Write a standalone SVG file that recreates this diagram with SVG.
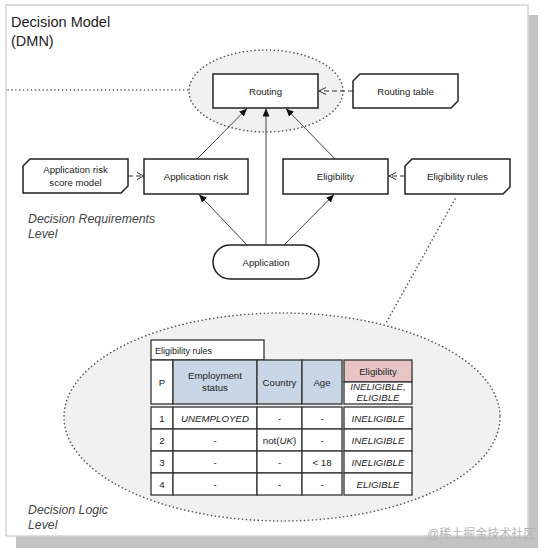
<svg xmlns="http://www.w3.org/2000/svg" width="544" height="555" viewBox="0 0 544 555">
<defs>
<marker id="solid" markerUnits="userSpaceOnUse" markerWidth="9" markerHeight="7" refX="8" refY="3.5" orient="auto">
<path d="M0,0 L8,3.5 L0,7 Z" fill="#111"/>
</marker>
<marker id="open" markerUnits="userSpaceOnUse" markerWidth="9" markerHeight="10" refX="7.5" refY="4" orient="auto">
<path d="M0.5,0.5 L7.5,4 L0.5,7.5" fill="none" stroke="#333" stroke-width="1"/>
</marker>
</defs>
<style>
text{font-family:"Liberation Sans",Arial,sans-serif;fill:#222}
.node{fill:#fff;stroke:#222;stroke-width:1.5}
.nt{font-size:9.6px;text-anchor:middle}
.lvl{font-size:12.3px;font-style:italic;fill:#444}
.halo{fill:#f1f1f1;stroke:#555;stroke-width:1.6;stroke-dasharray:0.1 3.8;stroke-linecap:round}
.dot{fill:none;stroke:#555;stroke-width:1.6;stroke-dasharray:0.1 3.8;stroke-linecap:round}
.req{fill:none;stroke:#444;stroke-width:1;marker-end:url(#solid)}
.kn{fill:none;stroke:#333;stroke-width:1.2;stroke-dasharray:5 3;marker-end:url(#open)}
.cell{fill:#fff;stroke:#333;stroke-width:1.3}
.in{fill:#c8d6e5;stroke:#333;stroke-width:1.3}
.out{fill:#e7c5c5;stroke:#333;stroke-width:1.3}
.tt{font-size:9.7px;text-anchor:middle}
.it{font-style:italic}
</style>
<rect x="16" y="15" width="522" height="533" fill="#c3c3c3"/>
<rect x="6" y="5" width="522" height="531" fill="#fff" stroke="#d4d4d4" stroke-width="1.5"/>
<text x="11" y="27" style="font-size:14.5px" fill="#333">Decision Model</text>
<text x="11" y="46" style="font-size:14.5px" fill="#333">(DMN)</text>
<g id="halos">
<ellipse class="halo" cx="266" cy="91" rx="77" ry="41"/>
<ellipse class="halo" cx="282" cy="417" rx="218" ry="104"/>
<path class="dot" d="M8,90 H189"/>
<path class="dot" d="M455,199 L386,323"/>
</g>
<text class="lvl" x="28" y="223">Decision Requirements</text>
<text class="lvl" x="28" y="238">Level</text>
<text class="lvl" x="28" y="514">Decision Logic</text>
<text class="lvl" x="28" y="529">Level</text>
<g id="connectors">
<path class="req" d="M197,159 L247,108.5"/>
<path class="req" d="M335,159 L286,108.5"/>
<path class="req" d="M266,245 L266,108.5"/>
<path class="req" d="M247,245 L199,194.5"/>
<path class="req" d="M284,245 L334,194.5"/>
<path class="kn" d="M353,91 L319,91"/>
<path class="kn" d="M128,176 L144,176"/>
<path class="kn" d="M405,176 L389,176"/>
</g>
<g id="routing">
<rect class="node" x="213" y="74" width="105" height="34"/>
<text class="nt" x="265.5" y="94.5">Routing</text>
</g>
<g id="routing-table">
<path class="node" d="M360,74 H458 V101 L451,108 H353 V81 Z"/>
<text class="nt" x="405.5" y="94.5">Routing table</text>
</g>
<g id="application-risk-score-model">
<path class="node" d="M30,159 H128 V186 L121,193 H23 V166 Z"/>
<text class="nt" x="75.5" y="173">Application risk</text>
<text class="nt" x="75.5" y="185.5">score model</text>
</g>
<g id="application-risk">
<rect class="node" x="144" y="159" width="104" height="35"/>
<text class="nt" x="196" y="179.5">Application risk</text>
</g>
<g id="eligibility">
<rect class="node" x="283" y="159" width="105" height="35"/>
<text class="nt" x="335.5" y="179.5">Eligibility</text>
</g>
<g id="eligibility-rules">
<path class="node" d="M412,159 H510 V187 L503,194 H405 V166 Z"/>
<text class="nt" x="457.5" y="179.5">Eligibility rules</text>
</g>
<g id="application">
<rect class="node" x="213" y="245" width="106" height="34" rx="17" ry="17"/>
<text class="nt" x="266" y="265.5">Application</text>
</g>
<g id="decision-table">
<rect class="cell" x="151" y="340" width="113" height="20"/>
<text x="155" y="354" style="font-size:9px">Eligibility rules</text>
<rect class="cell" x="151" y="360" width="22" height="44"/>
<rect class="in" x="173" y="360" width="84" height="44"/>
<rect class="in" x="257" y="360" width="45" height="44"/>
<rect class="in" x="302" y="360" width="40" height="44"/>
<rect class="out" x="344" y="360" width="68" height="22"/>
<rect class="cell" x="344" y="382" width="68" height="22"/>
<text class="tt" x="162" y="385.5">P</text>
<text class="tt" x="215" y="379">Employment</text>
<text class="tt" x="215" y="391">status</text>
<text class="tt" x="279.5" y="385.5">Country</text>
<text class="tt" x="322" y="385.5">Age</text>
<text class="tt" x="378" y="374.5">Eligibility</text>
<text class="tt it" x="378" y="390">INELIGIBLE,</text>
<text class="tt it" x="378" y="401">ELIGIBLE</text>
<g>
<rect class="cell" x="151" y="407" width="22" height="22"/><rect class="cell" x="173" y="407" width="84" height="22"/><rect class="cell" x="257" y="407" width="45" height="22"/><rect class="cell" x="302" y="407" width="40" height="22"/><rect class="cell" x="344" y="407" width="68" height="22"/>
<rect class="cell" x="151" y="429" width="22" height="22"/><rect class="cell" x="173" y="429" width="84" height="22"/><rect class="cell" x="257" y="429" width="45" height="22"/><rect class="cell" x="302" y="429" width="40" height="22"/><rect class="cell" x="344" y="429" width="68" height="22"/>
<rect class="cell" x="151" y="451" width="22" height="22"/><rect class="cell" x="173" y="451" width="84" height="22"/><rect class="cell" x="257" y="451" width="45" height="22"/><rect class="cell" x="302" y="451" width="40" height="22"/><rect class="cell" x="344" y="451" width="68" height="22"/>
<rect class="cell" x="151" y="473" width="22" height="22"/><rect class="cell" x="173" y="473" width="84" height="22"/><rect class="cell" x="257" y="473" width="45" height="22"/><rect class="cell" x="302" y="473" width="40" height="22"/><rect class="cell" x="344" y="473" width="68" height="22"/>
</g>
<text class="tt" x="162" y="421.5">1</text>
<text class="tt it" x="215" y="421.5">UNEMPLOYED</text>
<text class="tt" x="279.5" y="421.5">-</text>
<text class="tt" x="322" y="421.5">-</text>
<text class="tt it" x="378" y="421.5">INELIGIBLE</text>
<text class="tt" x="162" y="443.5">2</text>
<text class="tt" x="215" y="443.5">-</text>
<text class="tt" x="279.5" y="443.5">not(<tspan class="it">UK</tspan>)</text>
<text class="tt" x="322" y="443.5">-</text>
<text class="tt it" x="378" y="443.5">INELIGIBLE</text>
<text class="tt" x="162" y="465.5">3</text>
<text class="tt" x="215" y="465.5">-</text>
<text class="tt" x="279.5" y="465.5">-</text>
<text class="tt" x="322" y="465.5">&lt; 18</text>
<text class="tt it" x="378" y="465.5">INELIGIBLE</text>
<text class="tt" x="162" y="487.5">4</text>
<text class="tt" x="215" y="487.5">-</text>
<text class="tt" x="279.5" y="487.5">-</text>
<text class="tt" x="322" y="487.5">-</text>
<text class="tt it" x="378" y="487.5">ELIGIBLE</text>
</g>
<text x="427" y="538" style="font-size:12px;font-family:'Liberation Sans','Noto Sans CJK SC',sans-serif;fill:#b5b5b5">@稀土掘金技术社区</text>
</svg>
